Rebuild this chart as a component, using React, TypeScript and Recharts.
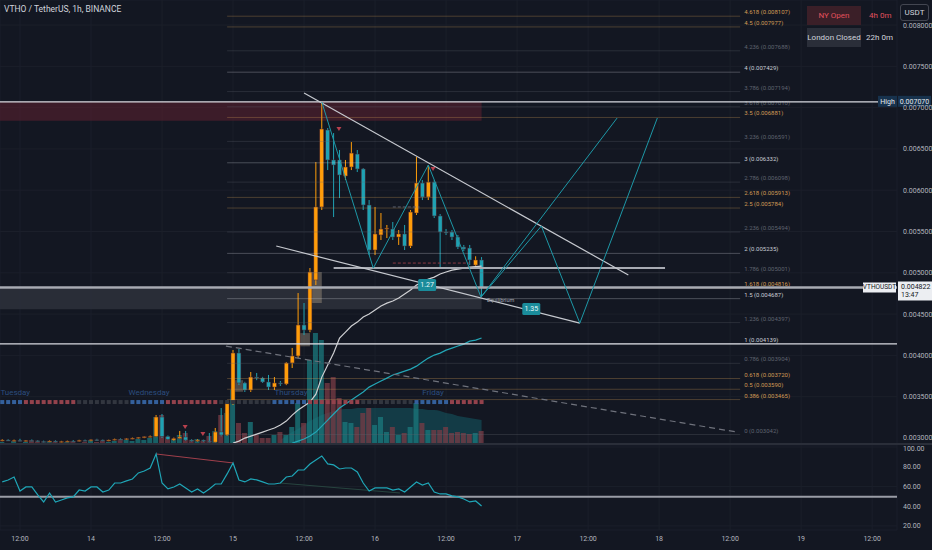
import React from "react";
import {
  ComposedChart,
  Bar,
  Line,
  Area,
  Scatter,
  XAxis,
  YAxis,
  CartesianGrid,
  ReferenceLine,
  ReferenceArea,
  ReferenceDot,
  Cell,
} from "recharts";

// hours counted from 13th 12:00
const hours = [
  -3, -2, -1, 0, 1, 2, 3, 4, 5, 6, 7, 8, 9, 10, 11, 12, 13, 14, 15, 16, 17, 18, 19, 20, 21, 22,
  23, 24, 25, 26, 27, 28, 29, 30, 31, 32, 33, 34, 35, 36, 37, 38, 39, 40, 41, 42, 43, 44, 45, 46,
  47, 48, 49, 50, 51, 52, 53, 54, 55, 56, 57, 58, 59, 60, 61, 62, 63, 64, 65, 66, 67, 68, 69, 70,
  71, 72, 73, 74, 75, 76, 77, 78,
];

const opens = [
  0.00297, 0.002975, 0.002968, 0.002972, 0.002965, 0.00297, 0.002966, 0.002958, 0.002955, 0.002963,
  0.002952, 0.002958, 0.002962, 0.00296, 0.002972, 0.002968, 0.002978, 0.002975, 0.002966, 0.002975,
  0.002985, 0.002982, 0.002992, 0.002998, 0.003008, 0.003015, 0.00302, 0.003254, 0.00302, 0.002975,
  0.002995, 0.003012, 0.002975, 0.002962, 0.002975, 0.002962, 0.00295, 0.003073, 0.003036, 0.003424,
  0.004029, 0.003666, 0.003581, 0.003738, 0.003726, 0.003678, 0.003617, 0.003666, 0.003654, 0.003908,
  0.003993, 0.004368, 0.004307, 0.004913, 0.005797, 0.006729, 0.006366, 0.006366, 0.006172, 0.006281,
  0.006438, 0.006257, 0.005821, 0.005276, 0.005458, 0.00553, 0.00553, 0.005433, 0.00547, 0.005324,
  0.005724, 0.006087, 0.005918, 0.006099, 0.005688, 0.005494, 0.005494, 0.005433, 0.005312, 0.0053,
  0.005094, 0.005155,
];
const highs = [
  0.002985, 0.002985, 0.00298, 0.00299, 0.002975, 0.002982, 0.002975, 0.002968, 0.00297, 0.002972,
  0.002965, 0.002968, 0.002975, 0.002978, 0.00298, 0.002985, 0.00299, 0.002982, 0.00298, 0.002992,
  0.002995, 0.002998, 0.003005, 0.003012, 0.00302, 0.00303, 0.003278, 0.00329, 0.00303, 0.003005,
  0.003085, 0.003085, 0.002985, 0.002985, 0.00298, 0.00306, 0.003121, 0.003363, 0.00346, 0.004065,
  0.004077, 0.00368, 0.003799, 0.003787, 0.00374, 0.003763, 0.003738, 0.00369, 0.00392, 0.00409,
  0.004755, 0.004634, 0.005058, 0.006341, 0.007068, 0.006753, 0.006692, 0.006487, 0.006366, 0.006583,
  0.006487, 0.006269, 0.005881, 0.005797, 0.005724, 0.005579, 0.005615, 0.005518, 0.005579, 0.00576,
  0.006402, 0.006123, 0.006305, 0.006123, 0.005712, 0.00553, 0.005518, 0.005458, 0.005337, 0.005337,
  0.0052, 0.00519,
];
const lows = [
  0.00296, 0.002965, 0.002958, 0.00296, 0.002955, 0.002962, 0.002952, 0.002945, 0.00295, 0.002948,
  0.002945, 0.00295, 0.002955, 0.002955, 0.002962, 0.00296, 0.002968, 0.00296, 0.00296, 0.00297,
  0.002975, 0.002975, 0.002985, 0.00299, 0.002998, 0.003005, 0.00301, 0.003, 0.002975, 0.002965,
  0.00299, 0.002965, 0.002955, 0.002955, 0.00295, 0.002945, 0.002945, 0.00302, 0.003024, 0.0034,
  0.003642, 0.003557, 0.003557, 0.0037, 0.003666, 0.003581, 0.003581, 0.00363, 0.00364, 0.003847,
  0.00397, 0.004247, 0.00428, 0.004852, 0.00576, 0.006244, 0.005675, 0.005905, 0.006123, 0.006244,
  0.00622, 0.00576, 0.005215, 0.005215, 0.005397, 0.005421, 0.005397, 0.005337, 0.005276, 0.0053,
  0.0057, 0.005881, 0.005881, 0.005663, 0.005058, 0.005458, 0.005397, 0.005288, 0.005264, 0.005094,
  0.00507, 0.004706,
];
const closes = [
  0.002975, 0.002968, 0.002972, 0.002965, 0.00297, 0.002966, 0.002958, 0.002955, 0.002963, 0.002952,
  0.002958, 0.002962, 0.00296, 0.002972, 0.002968, 0.002978, 0.002975, 0.002966, 0.002975, 0.002985,
  0.002982, 0.002992, 0.002998, 0.003008, 0.003015, 0.00302, 0.003254, 0.00302, 0.002985, 0.002995,
  0.003012, 0.002975, 0.002962, 0.002975, 0.002962, 0.00295, 0.003073, 0.003036, 0.003424, 0.004029,
  0.003666, 0.003581, 0.003738, 0.003726, 0.003678, 0.003617, 0.003666, 0.003654, 0.003908, 0.003993,
  0.004368, 0.004307, 0.00501, 0.005797, 0.006741, 0.006366, 0.006305, 0.006184, 0.006281, 0.00645,
  0.006257, 0.005821, 0.005276, 0.00547, 0.00553, 0.005542, 0.005433, 0.00547, 0.005324, 0.005736,
  0.006087, 0.005918, 0.006099, 0.005688, 0.005494, 0.005482, 0.005433, 0.005312, 0.005288, 0.005155,
  0.005155, 0.004822,
];
// volume, thousands
const volumes = [
  3, 2, 4, 2, 3, 5, 3, 2, 4, 3, 2, 3, 4, 2, 3, 5, 3, 4, 3, 4, 6, 5, 4, 6, 5, 7,
  28, 30, 8, 6, 10, 12, 5, 6, 4, 9, 14, 30, 32, 55, 22, 12, 23, 10, 7, 7, 10, 13, 10, 18,
  42, 22, 85, 112, 105, 62, 68, 47, 23, 22, 18, 32, 37, 20, 28, 13, 18, 10, 12, 18, 42, 22,
  15, 15, 15, 18, 12, 13, 12, 11, 12, 14,
];
const VOL_MA_START = 44;
const volumeMa = [
  5, 9, 13, 16, 20, 24, 27, 30, 32, 34, 35, 36, 36, 37, 37, 37, 37, 37, 37, 37, 37, 37, 37, 36,
  36, 35, 35, 34, 32, 31, 29, 28, 27, 26, 25,
];
const MA1_START = 36;
const ma1 = [
  0.002938, 0.002962, 0.002999, 0.003023, 0.003047, 0.003071, 0.003096, 0.00312, 0.003156, 0.003205,
  0.003277, 0.003338, 0.003386, 0.003435, 0.003531, 0.003737, 0.003883, 0.004028, 0.00421, 0.004282,
  0.004355, 0.004403, 0.004464, 0.0045, 0.004549, 0.004597, 0.004633, 0.004658, 0.004694, 0.004742,
  0.004791, 0.004851, 0.004888, 0.004924, 0.004948, 0.004985, 0.005009, 0.005033, 0.005045, 0.005057,
  0.005069, 0.005075, 0.005081,
];
const MA2_START = 46;
const ma2 = [
  0.002938, 0.002962, 0.002987, 0.003023, 0.003071, 0.003144, 0.003217, 0.00329, 0.003362, 0.00341,
  0.003459, 0.003507, 0.003556, 0.003616, 0.003653, 0.003689, 0.003725, 0.003762, 0.003786, 0.00381,
  0.003834, 0.00387, 0.003919, 0.003967, 0.004004, 0.004028, 0.004064, 0.004088, 0.004113, 0.004137,
  0.004173, 0.004185, 0.00421,
];
const rsi = [
  64.6, 66.6, 69.6, 55.4, 59.5, 59.5, 51.4, 44.3, 53.4, 44.3, 46.3, 48.4, 49.4, 56.4, 55.4, 59.5,
  59.5, 54.4, 56.4, 63.5, 63.5, 65.6, 67.6, 73.7, 75.7, 78.7, 92.9, 63.5, 57.5, 59.5, 62.5, 58.5,
  54.4, 57.5, 53.4, 57.5, 62.5, 62.5, 72.7, 83.8, 66.6, 64.6, 67.6, 66.6, 64.6, 62.5, 62.5, 63.5,
  69.6, 70.6, 76.7, 76.7, 82.8, 86.8, 90.9, 82.8, 81.8, 77.7, 78.7, 78.7, 74.7, 63.5, 55.4, 58.5,
  58.5, 58.5, 56.4, 57.5, 54.4, 59.5, 64.6, 61.5, 63.5, 54.4, 52.4, 52.4, 50.4, 49.4, 47.3, 44.3,
  45.3, 40.2,
];
// B = asia, R = london, G = off session
const sessions =
  "BBBBRRRRRRRRRGGGGGGGGGBBBBBBRRRRRRRRRGGGGGGGGGBBBBBBRRRRRRRRRGGGGGGGGGBBBBBBRRRRRR";

const hourTicks = [0, 12, 24, 36, 48, 60, 72, 84, 96, 108, 120, 132, 144];
const hourLabels = ["12:00", "14", "12:00", "15", "12:00", "16", "12:00", "17", "12:00", "18", "12:00", "19", "12:00"];
const priceTicks = [0.003, 0.0035, 0.004, 0.0045, 0.005, 0.0055, 0.006, 0.0065, 0.007, 0.0075, 0.008];
const rsiTicks = [20, 40, 60, 80, 100];

const fibRatios = [4.618, 4.5, 4.236, 4, 3.786, 3.618, 3.5, 3.236, 3, 2.786, 2.618, 2.5, 2.236, 2, 1.786, 1.618, 1.5, 1.236, 1, 0.786, 0.618, 0.5, 0.386, 0];
const fibPrices = [0.008107, 0.007977, 0.007688, 0.007429, 0.007194, 0.00701, 0.006881, 0.006591, 0.006332, 0.006098, 0.005913, 0.005784, 0.005494, 0.005235, 0.005001, 0.004816, 0.004687, 0.004397, 0.004139, 0.003904, 0.00372, 0.00359, 0.003465, 0.003042];

const dayNames = ["Tuesday", "Wednesday", "Thursday", "Friday"];
const dayHours = [-0.8, 21.8, 45.8, 69.8];
const signalHours = [27.9, 30.9, 53.9, 69.8];
const signalPrices = [0.003133, 0.003047, 0.006741, 0.006257];

// pattern drawing (hour, price)
const zigzag = [
  [51, 0.007068],
  [59.7, 0.005057],
  [69, 0.006305],
  [77.9, 0.004706],
  [88.1, 0.005566],
  [94.6, 0.004391],
  [107.7, 0.006874],
];
const projectionEnd = [100.9, 0.006874];

const HIGH_PRICE = 0.00707;
const LAST_PRICE = 0.004822;
const LEVEL_ONE = 0.004139;

const X_MIN = -3.38;
const X_MAX = 148.2;
const FONT = "Roboto, 'Liberation Sans', sans-serif";
const BG = "#131722";
const GRID = "#1b1f2a";
const UP = "#ff9d0a";
const DOWN = "#1fa2b3";
const TEXT = "#b2b5be";
const CANDLE_W = 4;
const SESSION_ROW = 0.003435;
const DAY_ROW = 0.003545;

const rows = hours.map((t, i) => ({
  t,
  o: opens[i],
  h: highs[i],
  l: lows[i],
  c: closes[i],
  v: volumes[i],
  vma: t >= VOL_MA_START ? volumeMa[t - VOL_MA_START] : null,
  ma1: t >= MA1_START ? ma1[t - MA1_START] : null,
  ma2: t >= MA2_START ? ma2[t - MA2_START] : null,
}));
const rsiRows = hours.map((t, i) => ({ t, rsi: rsi[i] }));
const sessionRows = hours.map((t, i) => ({ t, y: SESSION_ROW, s: sessions[i] }));
const dayRows = dayHours.map((t, i) => ({ t, y: DAY_ROW, name: dayNames[i] }));
const signalRows = signalHours.map((t, i) => ({ t, y: signalPrices[i] }));

function fibColor(r: number) {
  if ([4, 3, 2, 1.5, 1].includes(r)) return "#c9ccd3";
  if ([4.618, 4.5, 3.5, 2.618, 2.5, 1.618, 0.618, 0.5, 0.386].includes(r)) return "#d09a55";
  return "#5f636e";
}

function Candle(props: any) {
  const { x, y, width, height, payload } = props;
  if (x == null || !payload) return null;
  const top = Math.min(y, y + height);
  const span = Math.abs(height);
  const range = payload.h - payload.l;
  const toY = (p: number) => (range > 0 ? top + ((payload.h - p) / range) * span : top);
  const up = payload.c >= payload.o;
  const color = up ? UP : DOWN;
  const bTop = toY(Math.max(payload.o, payload.c));
  const bBot = toY(Math.min(payload.o, payload.c));
  const cx = x + width / 2;
  return (
    <g>
      <line x1={cx} x2={cx} y1={top} y2={top + span} stroke={color} strokeWidth={1} />
      <rect
        x={cx - CANDLE_W / 2}
        y={bTop}
        width={CANDLE_W}
        height={Math.max(1, bBot - bTop)}
        fill={color}
        stroke="#4a2630"
        strokeWidth={0.5}
      />
    </g>
  );
}

function SessionSquare(props: any) {
  const { cx, cy, payload } = props;
  if (cx == null) return null;
  const fill = payload.s === "B" ? "#34609c" : payload.s === "R" ? "#93424c" : "#32363f";
  return <rect x={cx - 2} y={cy - 2} width={4} height={4} fill={fill} />;
}

function DayText(props: any) {
  const { cx, cy, payload } = props;
  if (cx == null) return null;
  return (
    <text x={cx} y={cy} textAnchor="middle" dominantBaseline="central" fill="#2c4d7e" fontSize={8} fontFamily={FONT}>
      {payload.name}
    </text>
  );
}

function Signal(props: any) {
  const { cx, cy } = props;
  if (cx == null) return null;
  return <path d={`M${cx - 2.5},${cy - 2} L${cx + 2.5},${cy - 2} L${cx},${cy + 2} Z`} fill="#b8404d" />;
}

const fibLabel = (text: string, color: string) => (props: any) => {
  const vb = props.viewBox || {};
  return (
    <text x={(vb.x || 0) + (vb.width || 0) + 4} y={(vb.y || 0) - 2} fill={color} fontSize={6} fontFamily={FONT}>
      {text}
    </text>
  );
};

const highLabel = (props: any) => {
  const vb = props.viewBox || {};
  const right = (vb.x || 0) + (vb.width || 0);
  const y = vb.y || 0;
  return (
    <g fontFamily={FONT} fontSize={7}>
      <rect x={right - 19} y={y - 6} width={19} height={11} fill="#17324d" />
      <text x={right - 9.5} y={y} textAnchor="middle" dominantBaseline="central" fill="#e6e8ee">High</text>
      <rect x={right + 1} y={y - 6} width={33} height={11} fill="#17324d" />
      <text x={right + 17.5} y={y} textAnchor="middle" dominantBaseline="central" fill="#e6e8ee">0.007070</text>
    </g>
  );
};

const lastLabel = (props: any) => {
  const vb = props.viewBox || {};
  const right = (vb.x || 0) + (vb.width || 0);
  const y = vb.y || 0;
  return (
    <g fontFamily={FONT} fontSize={6.5}>
      <rect x={right - 34} y={y - 5} width={33} height={10} fill="#eceef2" />
      <text x={right - 17.5} y={y} textAnchor="middle" dominantBaseline="central" fill="#131722">VTHOUSDT</text>
      <rect x={right + 1} y={y - 6} width={34} height={19} fill="#eceef2" />
      <text x={right + 4} y={y} dominantBaseline="central" fill="#131722" fontSize={7}>0.004822</text>
      <text x={right + 4} y={y + 8} dominantBaseline="central" fill="#131722" fontSize={7}>13:47</text>
    </g>
  );
};

const tagBox = (text: string) => (props: any) => {
  const { cx, cy } = props;
  if (cx == null) return null;
  return (
    <g fontFamily={FONT} fontSize={7}>
      <rect x={cx - 9} y={cy - 6} width={18} height={12} rx={1.5} fill="#1a8c9b" />
      <text x={cx} y={cy} textAnchor="middle" dominantBaseline="central" fill="#e8f7f9">{text}</text>
    </g>
  );
};

const smallText = (text: string) => (props: any) => {
  const { cx, cy } = props;
  if (cx == null) return null;
  return (
    <text x={cx} y={cy} dominantBaseline="central" fill="#a3a6af" fontSize={5.5} fontFamily={FONT}>
      {text}
    </text>
  );
};

const axisTick = { fill: TEXT, fontSize: 7, fontFamily: FONT };

function PriceChart() {
  return (
    <ComposedChart width={932} height={445} data={rows} margin={{ top: 0, right: 0, bottom: 0, left: 0 }}>
      <CartesianGrid stroke={GRID} />
      <XAxis xAxisId={0} dataKey="t" type="number" domain={[X_MIN, X_MAX]} ticks={hourTicks} allowDataOverflow hide />
      <XAxis xAxisId="vx" dataKey="t" type="number" domain={[X_MIN, X_MAX]} allowDataOverflow hide />
      <YAxis
        orientation="right"
        width={35}
        domain={[0.002915, 0.008303]}
        ticks={priceTicks}
        allowDataOverflow
        tickFormatter={(v: number) => v.toFixed(6)}
        tick={axisTick}
        axisLine={false}
        tickLine={false}
        tickSize={4}
      />
      <YAxis yAxisId="vol" hide domain={[0, 445]} allowDataOverflow />

      <ReferenceArea x1={X_MIN} x2={78} y1={0.00684} y2={HIGH_PRICE} fill="#5e2130" fillOpacity={0.55} stroke="none" />
      <ReferenceArea x1={X_MIN} x2={78} y1={0.00456} y2={0.004803} fill="#2a2e39" fillOpacity={0.95} stroke="none" />
      <ReferenceArea x1={49.2} x2={51} y1={0.004634} y2={0.00501} fill="#8a8072" fillOpacity={0.55} stroke="none" />
      <ReferenceArea x1={47.2} x2={49} y1={0.00411} y2={0.00427} fill="#8a8072" fillOpacity={0.5} stroke="none" />
      <ReferenceArea x1={36.3} x2={37.7} y1={0.00356} y2={0.0037} fill="#8a8072" fillOpacity={0.5} stroke="none" />

      {fibRatios.map((r, i) => (
        <ReferenceLine
          key={r}
          segment={[{ x: 35, y: fibPrices[i] }, { x: 121.7, y: fibPrices[i] }]}
          stroke={fibColor(r)}
          strokeOpacity={0.3}
          strokeWidth={1}
          label={fibLabel(`${r} (${fibPrices[i].toFixed(6)})`, fibColor(r))}
        />
      ))}

      <Area xAxisId="vx" yAxisId="vol" dataKey="vma" type="monotone" fill="#14606a" fillOpacity={0.5} stroke="none" isAnimationActive={false} />
      <Bar xAxisId="vx" yAxisId="vol" dataKey="v" barSize={5} isAnimationActive={false}>
        {rows.map((d) => (
          <Cell key={d.t} fill={d.c >= d.o ? "#1b7a7d" : "#7a3c45"} fillOpacity={0.75} />
        ))}
      </Bar>

      <Scatter data={sessionRows} dataKey="y" shape={SessionSquare} isAnimationActive={false} />
      <Scatter data={dayRows} dataKey="y" shape={DayText} isAnimationActive={false} />

      <Bar dataKey={(d: any) => [d.l, d.h]} barSize={4} shape={Candle} isAnimationActive={false} />

      <Line dataKey="ma1" stroke="#cfd0d3" strokeWidth={1.2} dot={false} isAnimationActive={false} connectNulls={false} />
      <Line dataKey="ma2" stroke="#23a6b6" strokeWidth={1.2} dot={false} isAnimationActive={false} connectNulls={false} />

      <ReferenceLine y={HIGH_PRICE} stroke="#d8dae0" strokeWidth={1.3} label={highLabel} />
      <ReferenceLine y={LAST_PRICE} stroke="#a8abb3" strokeWidth={2.4} label={lastLabel} />
      <ReferenceLine y={LEVEL_ONE} stroke="#d8dae0" strokeWidth={1.3} />
      <ReferenceLine segment={[{ x: 53, y: 0.005058 }, { x: 109, y: 0.005058 }]} stroke="#a8abb3" strokeWidth={2} />
      <ReferenceLine segment={[{ x: 63, y: 0.005118 }, { x: 76, y: 0.005118 }]} stroke="#8a3a44" strokeDasharray="3 2" />
      <ReferenceLine segment={[{ x: 63, y: 0.005797 }, { x: 67.5, y: 0.005797 }]} stroke="#5f636e" strokeDasharray="3 2" />

      <ReferenceLine segment={[{ x: 48, y: 0.007177 }, { x: 102.8, y: 0.004973 }]} stroke="#c6c9cf" strokeWidth={1.2} />
      <ReferenceLine segment={[{ x: 43.3, y: 0.005324 }, { x: 94.6, y: 0.004391 }]} stroke="#c6c9cf" strokeWidth={1.2} />
      <ReferenceLine segment={[{ x: 34.8, y: 0.004113 }, { x: 121.2, y: 0.003071 }]} stroke="#6f727c" strokeWidth={1.2} strokeDasharray="6 4" />

      {zigzag.slice(1).map((p, i) => (
        <ReferenceLine
          key={`z${i}`}
          segment={[{ x: zigzag[i][0], y: zigzag[i][1] }, { x: p[0], y: p[1] }]}
          stroke="#1d98a7"
          strokeWidth={1}
        />
      ))}
      <ReferenceLine segment={[{ x: zigzag[3][0], y: zigzag[3][1] }, { x: projectionEnd[0], y: projectionEnd[1] }]} stroke="#1d98a7" strokeWidth={1} />

      <Scatter data={signalRows} dataKey="y" shape={Signal} isAnimationActive={false} />

      <ReferenceDot x={68.8} y={0.004851} r={0} shape={tagBox("1.27")} />
      <ReferenceDot x={86.4} y={0.004561} r={0} shape={tagBox("1.35")} />
      <ReferenceDot x={78.9} y={0.00467} r={0} shape={smallText("Equilibrium")} />
    </ComposedChart>
  );
}

function RsiChart() {
  return (
    <ComposedChart width={932} height={105} data={rsiRows} margin={{ top: 0, right: 0, bottom: 0, left: 0 }}>
      <CartesianGrid stroke={GRID} />
      <XAxis
        dataKey="t"
        type="number"
        domain={[X_MIN, X_MAX]}
        ticks={hourTicks}
        allowDataOverflow
        tickFormatter={(v: number) => hourLabels[hourTicks.indexOf(v)] ?? ""}
        height={20}
        tick={axisTick}
        axisLine={false}
        tickLine={false}
        tickSize={4}
      />
      <YAxis
        orientation="right"
        width={35}
        domain={[15.9, 102]}
        ticks={rsiTicks}
        allowDataOverflow
        tickFormatter={(v: number) => v.toFixed(2)}
        tick={axisTick}
        axisLine={false}
        tickLine={false}
        tickSize={4}
      />
      <ReferenceLine y={49.7} stroke="#9a9da6" strokeWidth={2} />
      <ReferenceLine segment={[{ x: 23, y: 92.9 }, { x: 36, y: 83.8 }]} stroke="#a03f4b" strokeWidth={1} />
      <ReferenceLine segment={[{ x: 43.9, y: 63.5 }, { x: 64.2, y: 53.4 }]} stroke="#27443f" strokeWidth={1} />
      <Line dataKey="rsi" stroke="#1fa6b7" strokeWidth={1.2} dot={false} isAnimationActive={false} />
    </ComposedChart>
  );
}

export default function App() {
  return (
    <div
      style={{
        position: "fixed",
        left: 0,
        top: 0,
        width: 932,
        height: 550,
        background: BG,
        overflow: "hidden",
        fontFamily: FONT,
      }}
    >
      <div style={{ position: "absolute", left: 0, top: 0 }}>
        <PriceChart />
      </div>
      <div style={{ position: "absolute", left: 0, top: 443, width: 932, height: 2, background: "#2a2e39" }} />
      <div style={{ position: "absolute", left: 0, top: 445 }}>
        <RsiChart />
      </div>

      <div style={{ position: "absolute", left: 4, top: 4, fontSize: 8.5, color: "#d1d4dc" }}>
        VTHO / TetherUS, 1h, BINANCE
      </div>

      <div
        style={{
          position: "absolute", left: 807, top: 6, width: 54, height: 19, background: "#3b1f28",
          color: "#e0505c", fontSize: 8, display: "flex", alignItems: "center", justifyContent: "center",
        }}
      >
        NY Open
      </div>
      <div style={{ position: "absolute", left: 869, top: 6, height: 19, lineHeight: "19px", color: "#e0505c", fontSize: 8 }}>
        4h 0m
      </div>
      <div
        style={{
          position: "absolute", left: 807, top: 28, width: 54, height: 19, background: "#2a2e39",
          color: "#d1d4dc", fontSize: 8, display: "flex", alignItems: "center", justifyContent: "center",
        }}
      >
        London Closed
      </div>
      <div style={{ position: "absolute", left: 866, top: 28, height: 19, lineHeight: "19px", color: "#d1d4dc", fontSize: 8 }}>
        22h 0m
      </div>
      <div
        style={{
          position: "absolute", left: 900, top: 4, width: 29, height: 17, border: "1px solid #434651",
          borderRadius: 3, color: "#d1d4dc", fontSize: 8, display: "flex", alignItems: "center", justifyContent: "center",
          boxSizing: "border-box",
        }}
      >
        USDT
      </div>
    </div>
  );
}
